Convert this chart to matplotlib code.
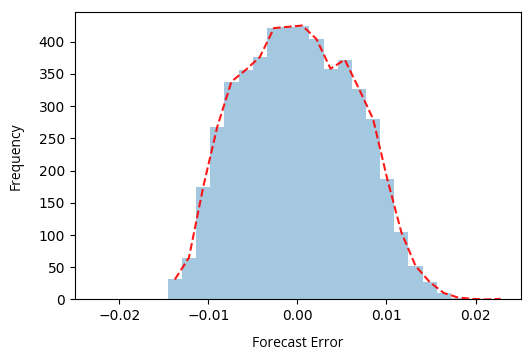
import numpy as np
import matplotlib
matplotlib.use("Agg")
import matplotlib.pyplot as plt

# histogram of forecast errors (counts)
bin_start = -0.01456
bin_width = 0.00159
counts = [31, 65, 174, 268, 338, 356, 376, 421, 423, 425, 404, 358,
          372, 327, 280, 187, 104, 52, 27, 10, 3, 1, 0, 1]

edges = bin_start + bin_width * np.arange(len(counts) + 1)
centers = (edges[:-1] + edges[1:]) / 2

fig = plt.figure(figsize=(5.3, 3.63), dpi=100)
ax = fig.add_axes([0.141, 0.175, 0.842, 0.792])

ax.bar(edges[:-1], counts, width=bin_width, align="edge",
       color="#1f77b4", alpha=0.4, linewidth=0)
ax.plot(centers, counts, "r--", linewidth=1.5, alpha=0.9)

ax.set_xlim(-0.025, 0.0251)
ax.set_ylim(0, 446)
ax.set_xticks([-0.02, -0.01, 0.0, 0.01, 0.02])
ax.set_yticks(range(0, 401, 50))

ax.set_xlabel("Forecast Error", family="Open Sans", fontsize=10, labelpad=9)
ax.set_ylabel("Frequency", family="Open Sans", fontsize=10, labelpad=11)

fig.savefig("out.png", dpi=100)
